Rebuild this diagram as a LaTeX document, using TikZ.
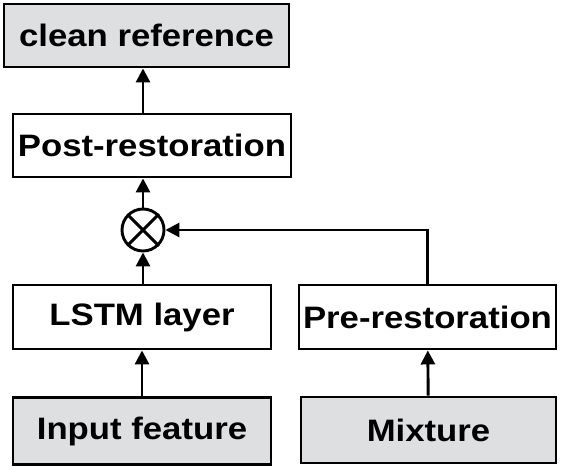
\documentclass[tikz,border=0pt]{standalone}
\usepackage{fontspec}
\newfontfamily\diagfont{Liberation Sans}[FakeStretch=1.12]
\usetikzlibrary{arrows.meta,positioning}
\definecolor{boxgray}{RGB}{221,223,225}

\begin{document}
\begin{tikzpicture}[->,>={Triangle[length=14pt,width=14pt]},line width=2.9pt,
                    x=1pt,y=1pt,
                    block/.style={rectangle,draw,minimum height=64pt,inner sep=0pt,
                                  font=\diagfont\bfseries\fontsize{31}{35}\selectfont},
                    data/.style={block,fill=boxgray},
                    mult/.style={circle,draw,minimum size=42pt,inner sep=0pt}]

  \useasboundingbox (0,0) rectangle (564,472);

  \node[data,minimum width=258pt,minimum height=67pt] (input) at (142,41) {Input feature};
  \node[block,minimum width=258pt] (lstm) [above of=input,node distance=114pt] {LSTM layer};
  \node[mult] (prod) [above of=lstm,node distance=87pt,xshift=1pt] {};
  \node[block,minimum width=278pt,minimum height=63pt] (post) [above of=prod,node distance=84.5pt,xshift=9pt] {Post-restoration};
  \node[data,minimum width=285pt,minimum height=63pt] (clean) [above of=post,node distance=110pt,xshift=-5.5pt] {clean reference};
  \node[block,minimum width=257pt] (pre) [right of=lstm,node distance=285.5pt] {Pre-restoration};
  \node[data,minimum width=255pt,minimum height=66pt] (mix) [below of=pre,node distance=113pt,xshift=1pt] {Mixture};

  % the cross inside the circle
  \draw[-] (prod.45) -- (prod.225);
  \draw[-] (prod.135) -- (prod.315);

  \draw (input) -- (lstm);
  \draw (prod |- lstm.north) -- (prod);
  \draw (prod) -- (prod |- post.south);
  \draw (prod |- post.north) -- (prod |- clean.south);
  \draw (mix) -- (pre);
  \draw (pre.north) |- (prod.east);
\end{tikzpicture}
\end{document}
